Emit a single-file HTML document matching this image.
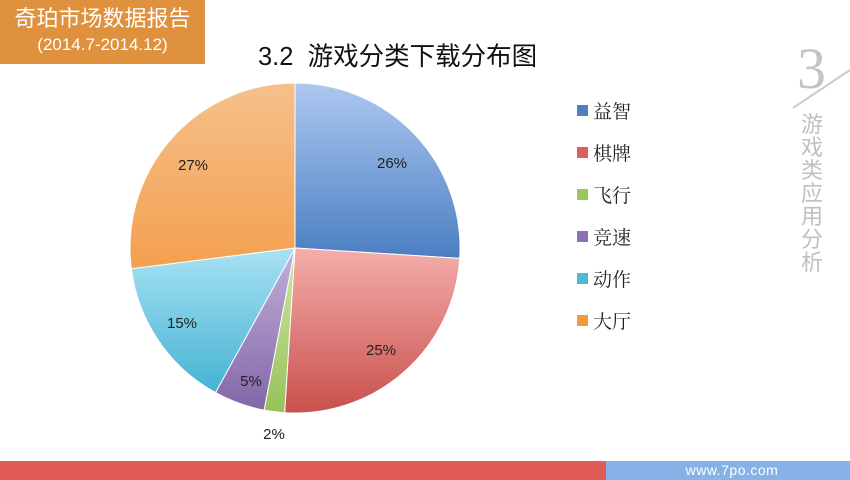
<!DOCTYPE html>
<html><head><meta charset="utf-8"><style>
body{margin:0;width:850px;height:480px;overflow:hidden;background:#fff;position:relative;font-family:"Liberation Sans","Noto Sans CJK SC",sans-serif}
.hdr{position:absolute;left:0;top:0;width:205px;height:64px;background:#e0913e;color:#fff;text-align:center}
</style></head><body>
<div class="hdr"><div style="font-size:22px;line-height:30px;padding-top:4px">奇珀市场数据报告</div><div style="font-size:17px;line-height:22px">(2014.7-2014.12)</div></div>
<div style="position:absolute;left:258px;top:36px;font-size:25.5px;color:#111">3.2&nbsp; 游戏分类下载分布图</div>
<svg width="850" height="480" style="position:absolute;left:0;top:0">
<defs>
<linearGradient id="gb" x1="0" y1="0" x2="0" y2="1"><stop offset="0" stop-color="#adc8ef"/><stop offset="1" stop-color="#4a7ec2"/></linearGradient>
<linearGradient id="gr" x1="0" y1="0" x2="0" y2="1"><stop offset="0" stop-color="#f4aeab"/><stop offset="1" stop-color="#c9504c"/></linearGradient>
<linearGradient id="gg" x1="0" y1="0" x2="0" y2="1"><stop offset="0" stop-color="#cfe6a6"/><stop offset="1" stop-color="#96c25a"/></linearGradient>
<linearGradient id="gp" x1="0" y1="0" x2="0" y2="1"><stop offset="0" stop-color="#c3b1db"/><stop offset="1" stop-color="#8266a8"/></linearGradient>
<linearGradient id="gc" x1="0" y1="0" x2="0" y2="1"><stop offset="0" stop-color="#a8e2f3"/><stop offset="1" stop-color="#45b3d3"/></linearGradient>
<linearGradient id="go" x1="0" y1="0" x2="0" y2="1"><stop offset="0" stop-color="#f6c08c"/><stop offset="1" stop-color="#f3a04e"/></linearGradient>
</defs>
<g stroke="#fff" stroke-width="1">
<path d="M295,248 L295,83 A165,165 0 0 1 459.7,258.4 Z" fill="url(#gb)"/>
<path d="M295,248 L459.7,258.4 A165,165 0 0 1 284.6,412.7 Z" fill="url(#gr)"/>
<path d="M295,248 L284.6,412.7 A165,165 0 0 1 264.1,410.1 Z" fill="url(#gg)"/>
<path d="M295,248 L264.1,410.1 A165,165 0 0 1 215.5,392.6 Z" fill="url(#gp)"/>
<path d="M295,248 L215.5,392.6 A165,165 0 0 1 131.3,268.7 Z" fill="url(#gc)"/>
<path d="M295,248 L131.3,268.7 A165,165 0 0 1 295,83 Z" fill="url(#go)"/>
</g>
<g font-family="Liberation Sans,sans-serif" font-size="15" fill="#222" text-anchor="middle">
<text x="392" y="168">26%</text><text x="381" y="355">25%</text><text x="274" y="439">2%</text>
<text x="251" y="386">5%</text><text x="182" y="328">15%</text><text x="193" y="170">27%</text>
</g>
<rect x="577" y="105" width="11" height="11" fill="#4f81bd"/>
<rect x="577" y="147" width="11" height="11" fill="#d9605c"/>
<rect x="577" y="189" width="11" height="11" fill="#9bc75e"/>
<rect x="577" y="231" width="11" height="11" fill="#8d70b4"/>
<rect x="577" y="273" width="11" height="11" fill="#4bb9d8"/>
<rect x="577" y="315" width="11" height="11" fill="#f3993f"/>
<g font-family="Noto Serif CJK SC,serif" font-size="19" fill="#222">
<text x="593" y="118">益智</text><text x="593" y="160">棋牌</text><text x="593" y="202">飞行</text>
<text x="593" y="244">竞速</text><text x="593" y="286">动作</text><text x="593" y="328">大厅</text>
</g>
<text x="797" y="88" font-family="Liberation Serif,serif" font-size="58" fill="#c4c4c4">3</text>
<line x1="793" y1="108" x2="850" y2="70" stroke="#ccc" stroke-width="2"/>
<g font-family="Noto Sans CJK SC,sans-serif" font-size="22" fill="#c0c0c0" text-anchor="middle">
<text x="812" y="132">游</text><text x="812" y="155">戏</text><text x="812" y="178">类</text><text x="812" y="201">应</text><text x="812" y="224">用</text><text x="812" y="247">分</text><text x="812" y="270">析</text>
</g>
<rect x="0" y="461" width="606" height="19" fill="#e05c55"/>
<rect x="606" y="461" width="244" height="19" fill="#86b2e8"/>
<text x="732" y="475" font-family="Liberation Sans,sans-serif" font-size="14" fill="#fff" text-anchor="middle" letter-spacing="0.5">www.7po.com</text>
</svg>
</body></html>
